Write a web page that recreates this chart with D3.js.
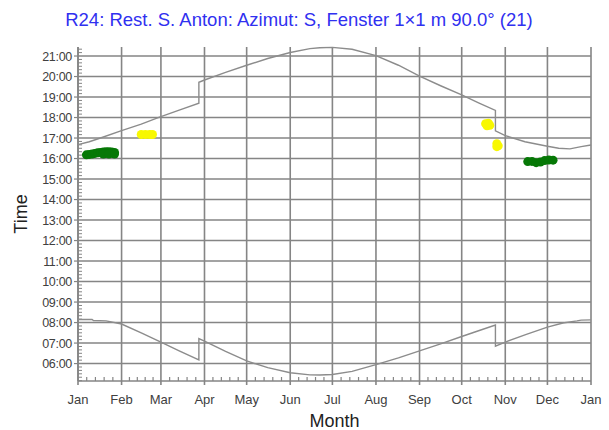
<!DOCTYPE html>
<html lang="de">
<head>
<meta charset="UTF-8">
<title>R24 Sonnenzeiten</title>
<script src="https://cdn.jsdelivr.net/npm/d3@7"></script>
<style>
  body { margin: 0; background: #fff; }
  text { font-family: "Liberation Sans", Arial, sans-serif; }
</style>
</head>
<body>
<svg></svg>
<script>
// month tick labels (day-of-year positions follow from monthStarts)
var months = ["Jan","Feb","Mar","Apr","May","Jun","Jul","Aug","Sep","Oct","Nov","Dec","Jan"];
var monthStarts = [0,31,59,90,120,151,181,212,243,273,304,334,365];
var hourTicks = [6,7,8,9,10,11,12,13,14,15,16,17,18,19,20,21];

// sunset line [day, hour] - DST jumps are doubled days
var sunset = [[0,16.68],[8,16.82],[16,17.0],[31,17.36],[45,17.68],[58,18.02],[72,18.36],[86,18.7],
  [86,19.72],[90,19.83],[105,20.2],[120,20.55],[135,20.88],[151,21.17],[165,21.36],[172,21.4],
  [181,21.42],[195,21.33],[212,21.02],[228,20.55],[243,20.02],[258,19.55],[273,19.1],[285,18.72],
  [297,18.35],[297,17.35],[304,17.12],[318,16.82],[334,16.6],[342,16.5],[350,16.47],[358,16.58],[365,16.66]];

// sunrise line [day, hour]
var sunrise = [[0,8.15],[10,8.15],[11,8.1],[20,8.08],[31,7.93],[45,7.5],[59,7.05],[72,6.62],[86,6.18],
  [86,7.22],[90,7.1],[105,6.6],[120,6.13],[135,5.8],[151,5.55],[165,5.45],[172,5.44],[181,5.47],
  [195,5.62],[212,5.95],[228,6.28],[243,6.62],[258,6.96],[273,7.32],[285,7.6],[297,7.88],
  [297,6.85],[304,7.05],[319,7.42],[334,7.78],[345,7.98],[355,8.08],[358,8.12],[365,8.13]];

// shading marks [day, hour]
var greenJan = [[6,16.18],[8,16.2],[10,16.22],[12,16.25],[14,16.28],[16,16.3],[18,16.32],[20,16.33],
  [22,16.33],[24,16.32],[26,16.3],[18,16.22],[22,16.22],[26,16.22]];
var yellowFeb = [[45,17.17],[48,17.17],[51,17.17],[53,17.17]];
var yellowOct = [[290,17.7],[291,17.6],[292,17.72],[293,17.62]];
var yellowNov = [[298,16.72],[298,16.58],[299,16.62]];
var greenDec = [[320,15.85],[323,15.86],[326,15.8],[329,15.83],[332,15.9],[335,15.93],[338,15.92]];

var W = 609, H = 430;
var svg = d3.select("svg").attr("width", W).attr("height", H);

var x = d3.scaleLinear().domain([0,365]).range([78,591]);
var y = d3.scaleLinear().domain([5.15,21.44]).range([381,47]);

var gridColor = "#858585";
var textColor = "#404040";

// title
svg.append("text")
  .attr("x", 299).attr("y", 26)
  .attr("text-anchor", "middle")
  .attr("font-size", 18.5)
  .attr("fill", "#3030f0")
  .text("R24: Rest. S. Anton: Azimut: S, Fenster 1\u00d71 m  90.0\u00b0 (21)");

// horizontal grid
svg.append("g").selectAll("line").data(hourTicks).enter().append("line")
  .attr("x1", x(0)).attr("x2", x(365))
  .attr("y1", function(d){return y(d)}).attr("y2", function(d){return y(d)})
  .attr("stroke", gridColor).attr("stroke-width", 1.6);

// vertical grid
svg.append("g").selectAll("line").data(monthStarts).enter().append("line")
  .attr("x1", function(d){return x(d)}).attr("x2", function(d){return x(d)})
  .attr("y1", y.range()[1]).attr("y2", y.range()[0] + 4)
  .attr("stroke", gridColor).attr("stroke-width", 1.6);

// minor x ticks: 4 per month
var minorX = [];
for (var i = 0; i < monthStarts.length - 1; i++) {
  var a = monthStarts[i], b = monthStarts[i+1];
  for (var k = 1; k < 5; k++) minorX.push(a + (b - a) * k / 5);
}
svg.append("g").selectAll("line").data(minorX).enter().append("line")
  .attr("x1", function(d){return x(d)}).attr("x2", function(d){return x(d)})
  .attr("y1", y.range()[0]).attr("y2", y.range()[0] - 4)
  .attr("stroke", gridColor).attr("stroke-width", 1.2);

// minor y ticks: every 10 minutes
var minorY = [];
for (var m = Math.ceil(5.15 * 6); m <= Math.floor(21.44 * 6); m++) {
  if (m % 6 !== 0) minorY.push(m / 6);
}
svg.append("g").selectAll("line").data(minorY).enter().append("line")
  .attr("x1", x(0)).attr("x2", x(0) + 4)
  .attr("y1", function(d){return y(d)}).attr("y2", function(d){return y(d)})
  .attr("stroke", gridColor).attr("stroke-width", 1);
svg.append("g").selectAll("line").data(hourTicks).enter().append("line")
  .attr("x1", x(0) - 4).attr("x2", x(0))
  .attr("y1", function(d){return y(d)}).attr("y2", function(d){return y(d)})
  .attr("stroke", gridColor).attr("stroke-width", 1.2);

// axis lines
svg.append("line")
  .attr("x1", x(0)).attr("x2", x(0)).attr("y1", y.range()[1]).attr("y2", y.range()[0])
  .attr("stroke", gridColor).attr("stroke-width", 1.6);
svg.append("line")
  .attr("x1", x(0)).attr("x2", x(365)).attr("y1", y.range()[0]).attr("y2", y.range()[0])
  .attr("stroke", gridColor).attr("stroke-width", 1.6);

// tick labels
svg.append("g").selectAll("text").data(hourTicks).enter().append("text")
  .attr("x", x(0) - 6).attr("y", function(d){return y(d) + 4.5})
  .attr("text-anchor", "end").attr("font-size", 12.5).attr("fill", textColor)
  .attr("letter-spacing", -0.3)
  .text(function(d){return (d < 10 ? "0" : "") + d + ":00"});
svg.append("g").selectAll("text").data(months).enter().append("text")
  .attr("x", function(d,i){return x(monthStarts[i])}).attr("y", 404)
  .attr("text-anchor", "middle").attr("font-size", 13).attr("fill", textColor)
  .text(function(d){return d});

// axis titles
svg.append("text")
  .attr("x", x(182.5)).attr("y", 427)
  .attr("text-anchor", "middle").attr("font-size", 18).attr("fill", "#222")
  .text("Month");
svg.append("text")
  .attr("transform", "translate(27,214) rotate(-90)")
  .attr("text-anchor", "middle").attr("font-size", 18).attr("fill", "#222")
  .text("Time");

// sun lines
var line = d3.line()
  .x(function(d){return x(d[0])})
  .y(function(d){return y(d[1])});
[sunset, sunrise].forEach(function(s){
  svg.append("path").datum(s)
    .attr("d", line)
    .attr("fill", "none")
    .attr("stroke", "#8c8c8c")
    .attr("stroke-width", 1.4);
});

// shading marks
function drawMarks(data, color){
  svg.append("g").selectAll("circle").data(data).enter().append("circle")
    .attr("cx", function(d){return x(d[0])})
    .attr("cy", function(d){return y(d[1])})
    .attr("r", 4.5)
    .attr("fill", color);
}
drawMarks(greenJan, "#067806");
drawMarks(greenDec, "#067806");
drawMarks(yellowFeb, "#f8f800");
drawMarks(yellowOct, "#f8f800");
drawMarks(yellowNov, "#f8f800");
</script>
</body>
</html>
